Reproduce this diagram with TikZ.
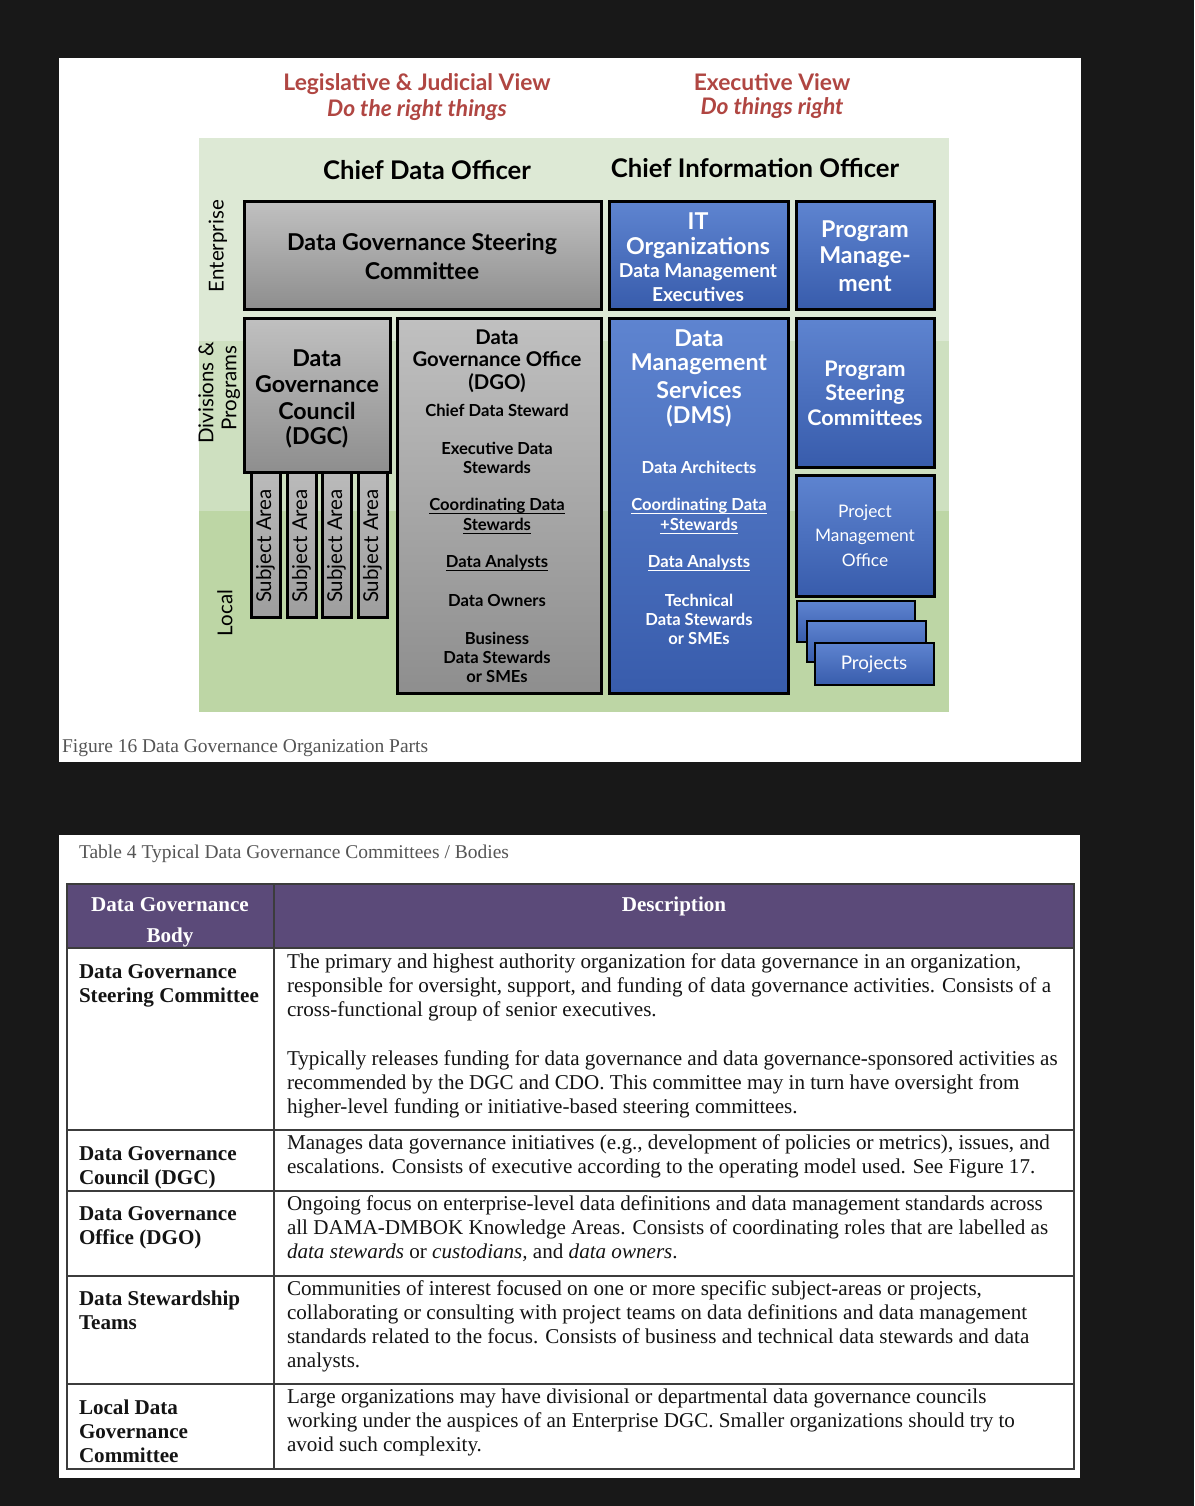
\documentclass[tikz,border=0pt]{standalone}
\usepackage{fontspec}
\setmainfont{Liberation Serif}
\newfontfamily\gillfont{Lato}
\newcommand\gs[1]{\gillfont\fontsize{#1}{#1}\selectfont}
\newcommand\ts[1]{\fontsize{#1}{#1}\selectfont}

\definecolor{pagebg}{RGB}{24,24,24}
\definecolor{hred}{RGB}{176,70,66}
\definecolor{gtop}{RGB}{192,192,192}
\definecolor{gbot}{RGB}{142,142,142}
\definecolor{stop}{RGB}{188,188,188}
\definecolor{sbot}{RGB}{158,158,158}
\definecolor{btop}{RGB}{94,132,208}
\definecolor{bbot}{RGB}{56,92,172}
\definecolor{grA}{RGB}{221,233,213}
\definecolor{grB}{RGB}{206,224,192}
\definecolor{grC}{RGB}{189,214,165}
\definecolor{capgray}{RGB}{85,85,85}
\definecolor{hdpurple}{RGB}{91,74,121}
\definecolor{rule}{RGB}{60,60,60}
\definecolor{txt}{RGB}{20,20,20}

\begin{document}
\begin{tikzpicture}[x=1pt,y=-1pt,
  every node/.style={inner sep=0pt, outer sep=0pt},
  gbox/.style={draw=black, line width=3pt, top color=gtop, bottom color=gbot},
  sbox/.style={draw=black, line width=3pt, top color=stop, bottom color=sbot},
  bbox/.style={draw=black, line width=3pt, top color=btop, bottom color=bbot},
  pbox/.style={draw=black, line width=2.5pt, top color=btop, bottom color=bbot},
  hd/.style={text=hred, font=\gs{22.8}\bfseries},
  hdi/.style={text=hred, font=\gs{22.8}\bfseries\itshape},
  officer/.style={font=\gs{25.7}\bfseries},
  band/.style={font=\gs{20.5}, rotate=90},
  tL/.style={font=\gs{23.2}\bfseries},
  tLs/.style={font=\gs{20.3}\bfseries},
  tP/.style={font=\gs{21.5}\bfseries},
  tM/.style={font=\gs{19.2}\bfseries},
  tS/.style={font=\gs{16.6}\bfseries},
  tR/.style={font=\gs{17.3}},
  tSA/.style={font=\gs{20.5}, rotate=90},
  tPj/.style={font=\gs{18.8}},
  wt/.style={text=white},
  ulk/.style={line width=1.2pt, black},
  ulw/.style={line width=1.2pt, white},
  figcap/.style={anchor=base west, font=\ts{19.5}, text=capgray},
  cellL/.style={anchor=base west, font=\ts{21.1}\bfseries, text=txt},
  cellR/.style={anchor=base west, font=\ts{21.1}, text=txt},
  headtxt/.style={anchor=base, font=\ts{21.1}\bfseries, text=white},
  grid/.style={draw=rule, line width=1.5pt},
]
% page and panels
\fill[pagebg] (0,0) rectangle (1194,1506);
\fill[white] (59,58) rectangle (1081,762);
\fill[white] (59,835) rectangle (1080,1478);

% ---------------- organisation figure ----------------
% level bands
\fill[grA] (199,138) rectangle (949,341);
\fill[grB] (199,341) rectangle (949,511);
\fill[grC] (199,511) rectangle (949,712);

% view headings
\node[hd]  (legv) at (417,84)  {Legislative \& Judicial View};
\node[hdi] (legm) at (417,110) {Do the right things};
\node[hd]  (exev) at (772,82)  {Executive View};
\node[hdi] (exem) at (772,108) {Do things right};

\node[officer] (cdo) at (427,170) {Chief Data Officer};
\node[officer] (cio) at (755,168) {Chief Information Officer};

% level labels
\node[band] (lvent) at (218,246) {Enterprise};
\node[band] (lvdiv1) at (206,393) {Divisions \&};
\node[band] (lvdiv2) at (231,388) {Programs};
\node[band] (lvloc) at (225,613) {Local};

% steering committee
\path[gbox] (244,202) rectangle (601,309);
\node[tL] (dgsc1) at (422,244) {Data Governance Steering};
\node[tL] (dgsc2) at (422,271) {Committee};

% subject areas (behind the council box)
\foreach \x/\n in {251/1,287/2,322/3,358/4}{
  \path[sbox] (\x,463) rectangle (\x+29,617);
  \node[tSA] (sa\n) at (\x+14.5,546) {Subject Area};
}

% council
\path[gbox] (244,318) rectangle (390,472);
\node[tL] (dgc1) at (317,358) {Data};
\node[tL] (dgc2) at (317,384) {Governance};
\node[tL] (dgc3) at (317,411) {Council};
\node[tL] (dgc4) at (317,437) {(DGC)};

% governance office
\path[gbox] (397,318) rectangle (601,693);
\node[tLs] (dgo1) at (497,337) {Data};
\node[tLs] (dgo2) at (497,359) {Governance Office};
\node[tLs] (dgo3) at (497,383) {(DGO)};
\node[tS] (dgo4) at (497,410) {Chief Data Steward};
\node[tS] (dgo5) at (497,448) {Executive Data};
\node[tS] (dgo6) at (497,467) {Stewards};
\node[tS] (dgo7) at (497,506) {Coordinating Data};
\node[tS] (dgo8) at (497,524) {Stewards};
\node[tS] (dgo9) at (497,563) {Data Analysts};
\node[tS] (dgo10) at (497,600) {Data Owners};
\node[tS] (dgo11) at (497,638) {Business};
\node[tS] (dgo12) at (497,657) {Data Stewards};
\node[tS] (dgo13) at (497,676) {or SMEs};
\foreach \n in {dgo7,dgo8,dgo9}
  \draw[ulk] ([yshift=-3pt]\n.base west) -- ([yshift=-3pt]\n.base east);

% IT organisations
\path[bbox] (609,202) rectangle (788,309);
\node[tL, wt] (it1) at (698,221) {IT};
\node[tL, wt] (it2) at (698,248) {Organizations};
\node[tM, wt] (it3) at (698,272) {Data Management};
\node[tM, wt] (it4) at (698,294) {Executives};

% program management
\path[bbox] (796,202) rectangle (934,309);
\node[tL, wt] (pm1) at (865,231) {Program};
\node[tL, wt] (pm2) at (865,257) {Manage-};
\node[tL, wt] (pm3) at (865,284) {ment};

% data management services
\path[bbox] (609,318) rectangle (788,693);
\node[tL, wt] (dms1) at (699,338) {Data};
\node[tL, wt] (dms2) at (699,364) {Management};
\node[tL, wt] (dms3) at (699,390) {Services};
\node[tL, wt] (dms4) at (699,416) {(DMS)};
\node[tS, wt] (dms5) at (699,467) {Data Architects};
\node[tS, wt] (dms6) at (699,506) {Coordinating Data};
\node[tS, wt] (dms7) at (699,524) {+Stewards};
\node[tS, wt] (dms8) at (699,563) {Data Analysts};
\node[tS, wt] (dms9) at (699,600) {Technical};
\node[tS, wt] (dms10) at (699,619) {Data Stewards};
\node[tS, wt] (dms11) at (699,638) {or SMEs};
\foreach \n in {dms6,dms7,dms8}
  \draw[ulw] ([yshift=-3pt]\n.base west) -- ([yshift=-3pt]\n.base east);

% program steering committees
\path[bbox] (796,318) rectangle (934,467);
\node[tP, wt] (psc1) at (865,371) {Program};
\node[tP, wt] (psc2) at (865,394) {Steering};
\node[tP, wt] (psc3) at (865,418) {Committees};

% project management office
\path[bbox] (796,475) rectangle (934,596);
\node[tR, wt] (pmo1) at (865,513) {Project};
\node[tR, wt] (pmo2) at (865,537) {Management};
\node[tR, wt] (pmo3) at (865,560) {Office};

% stacked projects
\path[pbox] (797,601) rectangle (915,642);
\path[pbox] (807,621) rectangle (926,662);
\path[pbox] (815,643) rectangle (934,685);
\node[tPj, wt] (proj) at (874,664) {Projects};

\node[figcap] (fig) at (62,752) {Figure 16 Data Governance Organization Parts};

% ---------------- committees table ----------------
\node[figcap] (tab) at (79,858) {Table 4 Typical Data Governance Committees / Bodies};

\fill[hdpurple] (67,884) rectangle (1074,948);
\draw[grid] (67,884) rectangle (1074,1469);
\draw[grid] (274,884) -- (274,1469);
\foreach \yy in {948,1130,1191,1276,1384}
  \draw[grid] (67,\yy) -- (1074,\yy);

\node[headtxt] (h1) at (170,911) {Data Governance};
\node[headtxt] (h2) at (170,942) {Body};
\node[headtxt] (h3) at (674,911) {Description};

% row 1
\node[cellL] (b1a) at (79,978)  {Data Governance};
\node[cellL] (b1b) at (79,1002) {Steering Committee};
\node[cellR] (d1a) at (287,968)  {The primary and highest authority organization for data governance in an organization,};
\node[cellR] (d1b) at (287,992)  {responsible for oversight, support, and funding of data governance activities. Consists of a};
\node[cellR] (d1c) at (287,1016) {cross-functional group of senior executives.};
\node[cellR] (d1d) at (287,1065) {Typically releases funding for data governance and data governance-sponsored activities as};
\node[cellR] (d1e) at (287,1089) {recommended by the DGC and CDO. This committee may in turn have oversight from};
\node[cellR] (d1f) at (287,1113) {higher-level funding or initiative-based steering committees.};

% row 2
\node[cellL] (b2a) at (79,1160) {Data Governance};
\node[cellL] (b2b) at (79,1184) {Council (DGC)};
\node[cellR] (d2a) at (287,1149) {Manages data governance initiatives (e.g., development of policies or metrics), issues, and};
\node[cellR] (d2b) at (287,1173) {escalations. Consists of executive according to the operating model used. See Figure 17.};

% row 3
\node[cellL] (b3a) at (79,1220) {Data Governance};
\node[cellL] (b3b) at (79,1244) {Office (DGO)};
\node[cellR] (d3a) at (287,1210) {Ongoing focus on enterprise-level data definitions and data management standards across};
\node[cellR] (d3b) at (287,1234) {all DAMA-DMBOK Knowledge Areas. Consists of coordinating roles that are labelled as};
\node[cellR] (d3c) at (287,1258) {\textit{data stewards} or \textit{custodians,} and \textit{data owners}.};

% row 4
\node[cellL] (b4a) at (79,1305) {Data Stewardship};
\node[cellL] (b4b) at (79,1329) {Teams};
\node[cellR] (d4a) at (287,1295) {Communities of interest focused on one or more specific subject-areas or projects,};
\node[cellR] (d4b) at (287,1319) {collaborating or consulting with project teams on data definitions and data management};
\node[cellR] (d4c) at (287,1343) {standards related to the focus. Consists of business and technical data stewards and data};
\node[cellR] (d4d) at (287,1367) {analysts.};

% row 5
\node[cellL] (b5a) at (79,1414) {Local Data};
\node[cellL] (b5b) at (79,1438) {Governance};
\node[cellL] (b5c) at (79,1462) {Committee};
\node[cellR] (d5a) at (287,1403) {Large organizations may have divisional or departmental data governance councils};
\node[cellR] (d5b) at (287,1427) {working under the auspices of an Enterprise DGC. Smaller organizations should try to};
\node[cellR] (d5c) at (287,1451) {avoid such complexity.};
\end{tikzpicture}
\end{document}
